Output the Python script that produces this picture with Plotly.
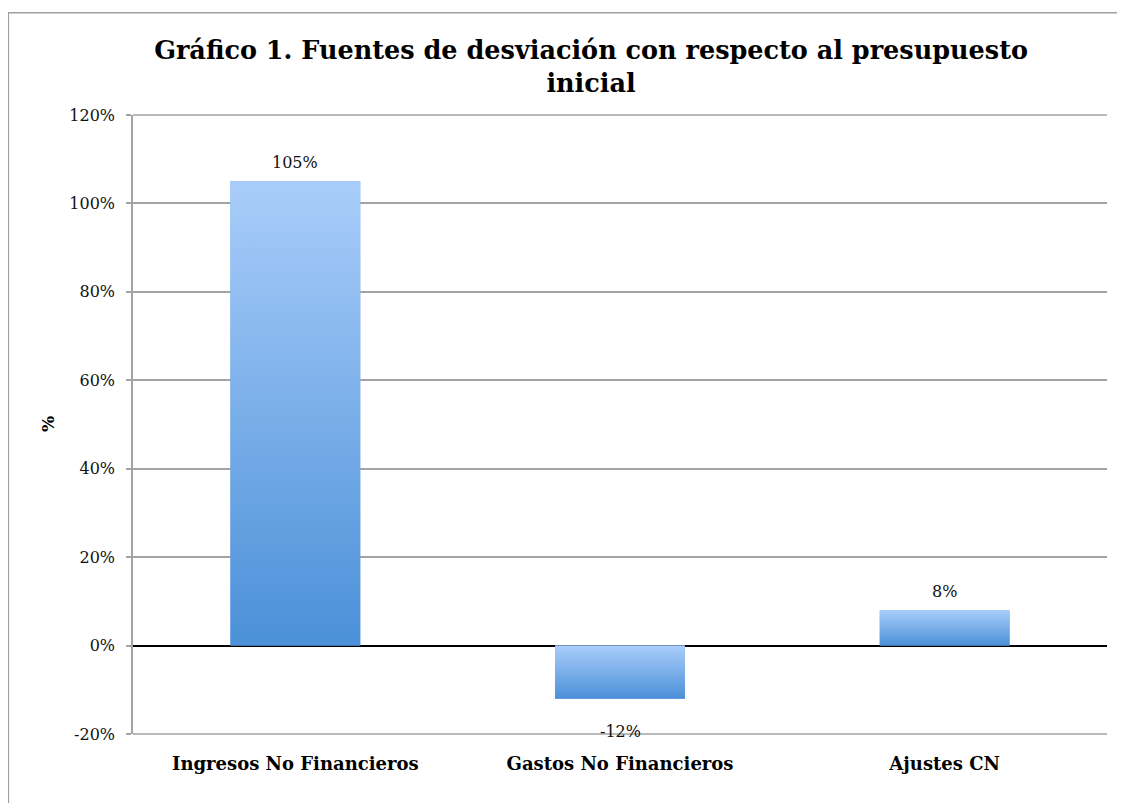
import plotly.graph_objects as go

categories = ["Ingresos No Financieros", "Gastos No Financieros", "Ajustes CN"]
values = [1.05, -0.12, 0.08]
value_labels = ["105%", "-12%", "8%"]
y_tick_values = [-0.2, 0.0, 0.2, 0.4, 0.6, 0.8, 1.0, 1.2]
y_tick_labels = ["-20%", "0%", "20%", "40%", "60%", "80%", "100%", "120%"]
title_text = "<b>Gráfico 1. Fuentes de desviación con respecto al presupuesto<br>inicial</b>"
y_title = "%"

SERIF = "DejaVu Serif"
DARK = "#4b90d8"
LIGHT = "#a9cdfa"
GRID = "#a3a3a3"
BAR_W = 0.40
xs = list(range(len(categories)))

fig = go.Figure()

# base bars (data)
fig.add_trace(go.Bar(
    x=xs, y=values, width=BAR_W,
    marker=dict(color="#79acea", line=dict(width=0)),
    hoverinfo="x+y", showlegend=False,
))

# gradient overlay per bar
for xi, v in zip(xs, values):
    x0, x1 = xi - BAR_W / 2, xi + BAR_W / 2
    fig.add_trace(go.Scatter(
        x=[x0, x1, x1, x0, x0], y=[0, 0, v, v, 0],
        mode="lines", line=dict(width=0), fill="toself",
        fillgradient=dict(type="vertical",
                          colorscale=[[0, DARK], [1, LIGHT]]),
        hoverinfo="skip", showlegend=False,
    ))

# value labels
for xi, v, lab in zip(xs, values, value_labels):
    fig.add_annotation(
        x=xi, y=v, xref="x", yref="y", text=lab, showarrow=False,
        yanchor="bottom" if v >= 0 else "top",
        yshift=7 if v >= 0 else -21,
        font=dict(family=SERIF, size=16, color="#111"),
    )

# y axis title
fig.add_annotation(
    x=-0.1, y=0.5, xref="paper", yref="paper", text="<b>%s</b>" % y_title,
    showarrow=False, textangle=-90,
    font=dict(family=SERIF, size=17, color="#000"),
)

# outer frame
fig.add_shape(type="rect", xref="paper", yref="paper",
              x0=-0.128, x1=1.0113, y0=-0.2, y1=1.165,
              line=dict(color="#a0a0a0", width=1.5), layer="below")
# top and bottom plot-area border lines (gridlines at range ends)
for yy in (0, 1):
    fig.add_shape(type="line", xref="paper", yref="paper",
                  x0=0, x1=1, y0=yy, y1=yy,
                  line=dict(color=GRID, width=1.5), layer="below")

fig.update_layout(
    width=1117, height=795,
    margin=dict(l=125, r=18, t=107, b=69),
    paper_bgcolor="white", plot_bgcolor="white",
    title=dict(text=title_text, x=0.522, xanchor="center", y=0.936, yanchor="top",
               font=dict(family=SERIF, size=25.5, color="#000")),
    bargap=0.6,
)
fig.update_xaxes(
    range=[-0.5, 2.5], tickvals=xs, ticktext=["<b>%s</b>" % c for c in categories],
    showgrid=False, zeroline=False, showline=False,
    ticks="outside", ticklen=13, tickcolor="rgba(0,0,0,0)",
    tickfont=dict(family=SERIF, size=18, color="#000"),
)
fig.update_yaxes(
    range=[-0.2, 1.2], tickvals=y_tick_values, ticktext=y_tick_labels,
    showgrid=True, gridcolor=GRID, gridwidth=1.5,
    zeroline=True, zerolinecolor="#000", zerolinewidth=2,
    showline=True, linecolor=GRID, linewidth=1.5,
    ticks="outside", ticklen=5, tickcolor=GRID, tickwidth=1.5,
    ticklabelstandoff=8,
    tickfont=dict(family=SERIF, size=16, color="#111"),
)

fig.write_html("out.html")
